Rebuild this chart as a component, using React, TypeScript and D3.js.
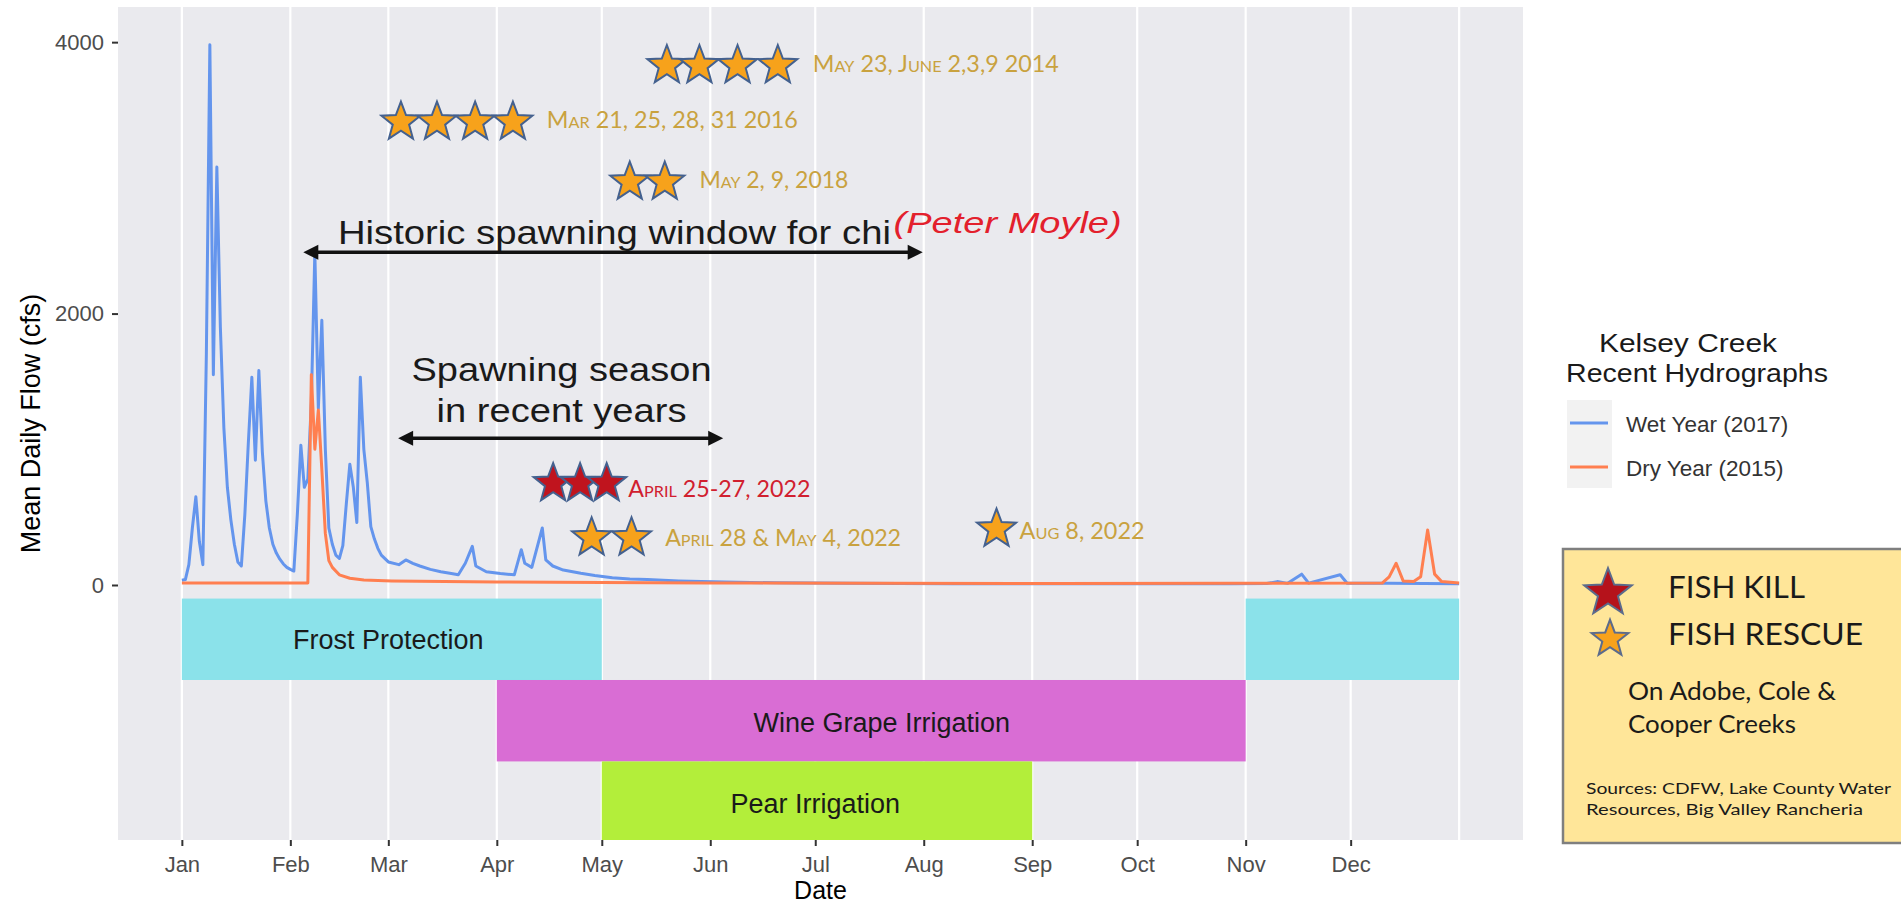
import React, { useEffect, useRef } from "react";
import * as d3 from "d3";

// Kelsey Creek mean daily flow (cfs), keyed by day of year (0 = Jan 1)
const wetYear2017: [number, number][] = [
  [0, 35], [1, 40], [2, 150], [3, 420], [4, 650], [5, 320], [6, 150], [7, 1700], [8, 3980], [9, 1550],
  [10, 3080], [11, 1900], [12, 1160], [13, 720], [14, 480], [15, 300], [16, 170], [17, 140], [18, 520],
  [19, 1050], [20, 1530], [21, 920], [22, 1580], [23, 980], [24, 620], [25, 420], [26, 300], [27, 235],
  [28, 190], [29, 155], [30, 130], [31, 115], [32, 103], [33, 520], [34, 1030], [35, 720], [36, 780],
  [37, 1350], [38, 2450], [39, 1300], [40, 1950], [41, 1000], [42, 420], [43, 300], [44, 220], [45, 195],
  [46, 290], [47, 600], [48, 890], [49, 720], [50, 460], [51, 1530], [52, 1000], [53, 750], [54, 430],
  [55, 340], [56, 270], [57, 220], [59, 170], [62, 150], [64, 185], [66, 160], [68, 140], [71, 115],
  [74, 98], [77, 85], [79, 75], [81, 160], [83, 285], [84, 140], [87, 98], [91, 85], [95, 75], [97, 260],
  [98, 160], [100, 130], [103, 420], [104, 185], [106, 140], [109, 110], [114, 86], [118, 70], [123, 53],
  [128, 45], [133, 40], [142, 30], [155, 22], [170, 16], [190, 12], [220, 10], [260, 9], [300, 9],
  [310, 11], [313, 25], [316, 12], [320, 80], [322, 14], [331, 75], [333, 13], [345, 12], [365, 10],
];

const dryYear2015: [number, number][] = [
  [0, 15], [36, 15], [37, 1550], [38, 1000], [39, 1290], [40, 850], [41, 380], [42, 180], [43, 130],
  [45, 75], [48, 50], [52, 37], [60, 30], [75, 25], [90, 22], [120, 18], [150, 15], [200, 12], [250, 11],
  [300, 12], [343, 14], [345, 60], [347, 160], [349, 30], [352, 25], [354, 60], [356, 405], [358, 80],
  [360, 25], [365, 15],
];

const yTicks = [0, 2000, 4000];

// water-use seasons drawn below the zero line (day ranges, cfs ranges)
const seasons = [
  { kind: "frost", start: 0, end: 120, top: -100, bottom: -700 },
  { kind: "frost", start: 304, end: 365, top: -100, bottom: -700 },
  { kind: "wine", start: 90, end: 304, top: -700, bottom: -1300 },
  { kind: "pear", start: 120, end: 243, top: -1300, bottom: -1879 },
];
const seasonLabels = [
  { text: "Frost Protection", day: 59, cfs: -405 },
  { text: "Wine Grape Irrigation", day: 200, cfs: -1010 },
  { text: "Pear Irrigation", day: 181, cfs: -1610 },
];

// fish rescue / kill events (star days along the axis, label text)
const rescueEvents = [
  { days: [138.6, 147.9, 158.8, 170.3], cfs: 3828, label: "May 23, June 2,3,9 2014", labelDay: 180.3, labelCfs: 3782 },
  { days: [62.6, 72.9, 83.8, 94.6], cfs: 3411, label: "Mar 21, 25, 28, 31 2016", labelDay: 104.3, labelCfs: 3365 },
  { days: [128, 138], cfs: 2969, label: "May 2, 9, 2018", labelDay: 147.9, labelCfs: 2925 },
  { days: [117.1, 128.5], cfs: 348, label: "April 28 & May 4, 2022", labelDay: 138.1, labelCfs: 287 },
  { days: [232.8], cfs: 412, label: "Aug 8, 2022", labelDay: 239.4, labelCfs: 339 },
];
const killEvents = [
  { days: [106.1, 113.8, 121.4], cfs: 748, label: "April 25-27, 2022", labelDay: 127.6, labelCfs: 651 },
];

// spawning windows (arrows)
const spawnArrows = [
  { from: 34.7, to: 211.7, cfs: 2451 },
  { from: 61.8, to: 154.7, cfs: 1081 },
];

const W = 1901;
const H = 906;
const panel = { left: 118, right: 1523, top: 7, bottom: 840 };
const sans = "'Liberation Sans', Arial, sans-serif";
const calibri = "Lato, 'Open Sans', sans-serif";

const seasonColor: Record<string, string> = { frost: "#8BE2EA", wine: "#D96DD4", pear: "#B3EE3A" };
const labelWidth: Record<string, number> = {
  "May 23, June 2,3,9 2014": 246,
  "Mar 21, 25, 28, 31 2016": 251,
  "May 2, 9, 2018": 149,
  "April 28 & May 4, 2022": 236,
  "Aug 8, 2022": 125,
  "April 25-27, 2022": 182,
};

const t0 = Date.UTC(2017, 0, 1);
const dayDate = (d: number) => new Date(t0 + d * 864e5);

const starPath = (R: number) => {
  const pts: [number, number][] = d3.range(10).map((i) => [(i * Math.PI) / 5, i % 2 ? R * 0.42 : R]);
  return d3.lineRadial().curve(d3.curveLinearClosed)(pts) as string;
};

export default function App() {
  const svgRef = useRef<SVGSVGElement | null>(null);

  useEffect(() => {
    if (!svgRef.current) return;
    document.body.style.margin = "0";
    document.body.style.overflow = "hidden";

    const svg = d3.select(svgRef.current);
    svg.selectAll("*").remove();

    const x = d3.scaleUtc().domain([dayDate(-18.25), dayDate(383.25)]).range([panel.left, panel.right]);
    const y = d3.scaleLinear().domain([-1879, 4259]).range([panel.bottom, panel.top]);

    svg.append("rect").attr("width", W).attr("height", H).attr("fill", "#ffffff");

    // panel + vertical grid
    svg.append("rect")
      .attr("x", panel.left).attr("y", panel.top)
      .attr("width", panel.right - panel.left).attr("height", panel.bottom - panel.top)
      .attr("fill", "#EAEAEE");

    const months = d3.utcMonth.range(dayDate(0), dayDate(365));
    const gridDates = d3.utcMonth.range(dayDate(0), dayDate(366));
    svg.append("g").selectAll("line").data(gridDates).enter().append("line")
      .attr("x1", (d) => x(d)).attr("x2", (d) => x(d))
      .attr("y1", panel.top).attr("y2", panel.bottom)
      .attr("stroke", "#ffffff").attr("stroke-width", 2.2);

    // seasons
    svg.append("g").selectAll("rect").data(seasons).enter().append("rect")
      .attr("x", (d) => x(dayDate(d.start)))
      .attr("width", (d) => x(dayDate(d.end)) - x(dayDate(d.start)))
      .attr("y", (d) => y(d.top))
      .attr("height", (d) => y(d.bottom) - y(d.top))
      .attr("fill", (d) => seasonColor[d.kind]);

    svg.append("g").selectAll("text").data(seasonLabels).enter().append("text")
      .attr("x", (d) => x(dayDate(d.day))).attr("y", (d) => y(d.cfs))
      .attr("dy", "0.35em").attr("text-anchor", "middle")
      .style("font-family", sans).style("font-size", "27px").attr("fill", "#1a1a1a")
      .text((d) => d.text);

    // hydrographs
    const line = d3.line<[number, number]>()
      .x((d) => x(dayDate(d[0])))
      .y((d) => y(d[1]));
    svg.append("path").datum(wetYear2017).attr("d", line)
      .attr("fill", "none").attr("stroke", "#6495ED").attr("stroke-width", 3).attr("stroke-linejoin", "round");
    svg.append("path").datum(dryYear2015).attr("d", line)
      .attr("fill", "none").attr("stroke", "#FF7F50").attr("stroke-width", 3).attr("stroke-linejoin", "round");

    // axes
    const xAxis = svg.append("g")
      .attr("transform", `translate(0,${panel.bottom})`)
      .call(d3.axisBottom(x).tickValues(months).tickFormat(d3.utcFormat("%b") as any).tickSize(6).tickPadding(10));
    xAxis.select(".domain").remove();
    xAxis.selectAll("line").attr("stroke", "#333").attr("stroke-width", 2);
    xAxis.selectAll("text").style("font-family", sans).style("font-size", "22px").attr("fill", "#4D4D4D");

    const yAxis = svg.append("g")
      .attr("transform", `translate(${panel.left},0)`)
      .call(d3.axisLeft(y).tickValues(yTicks).tickFormat(d3.format("d")).tickSize(6).tickPadding(8));
    yAxis.select(".domain").remove();
    yAxis.selectAll("line").attr("stroke", "#333").attr("stroke-width", 2);
    yAxis.selectAll("text").style("font-family", sans).style("font-size", "22px").attr("fill", "#4D4D4D");

    svg.append("text")
      .attr("x", (panel.left + panel.right) / 2).attr("y", 899)
      .attr("text-anchor", "middle").style("font-family", sans).style("font-size", "25px").attr("fill", "#000")
      .text("Date");
    svg.append("text")
      .attr("transform", `translate(40,${(panel.top + panel.bottom) / 2}) rotate(-90)`)
      .attr("text-anchor", "middle").style("font-family", sans).style("font-size", "27px").attr("fill", "#000")
      .text("Mean Daily Flow (cfs)");

    // spawning arrows
    const arrows = svg.append("g");
    spawnArrows.forEach((a) => {
      const x1 = x(dayDate(a.from));
      const x2 = x(dayDate(a.to));
      const yy = y(a.cfs);
      arrows.append("line").attr("x1", x1 + 8).attr("x2", x2 - 8).attr("y1", yy).attr("y2", yy)
        .attr("stroke", "#111").attr("stroke-width", 3.5);
      arrows.append("path").attr("d", `M${x1},${yy}L${x1 + 15},${yy - 7.5}L${x1 + 15},${yy + 7.5}Z`).attr("fill", "#111");
      arrows.append("path").attr("d", `M${x2},${yy}L${x2 - 15},${yy - 7.5}L${x2 - 15},${yy + 7.5}Z`).attr("fill", "#111");
    });

    const bigText = (day: number, cfs: number, txt: string, len: number, anchor: string) =>
      svg.append("text")
        .attr("x", x(dayDate(day))).attr("y", y(cfs))
        .attr("text-anchor", anchor)
        .attr("textLength", len).attr("lengthAdjust", "spacingAndGlyphs")
        .style("font-family", sans).style("font-size", "33px").attr("fill", "#1a1a1a")
        .text(txt);
    bigText(44.6, 2510, "Historic spawning window for chi", 553, "start");
    bigText(108.5, 1503, "Spawning season", 300, "middle");
    bigText(108.5, 1203, "in recent years", 250, "middle");
    svg.append("text")
      .attr("x", x(dayDate(203.4))).attr("y", y(2594))
      .attr("textLength", 228).attr("lengthAdjust", "spacingAndGlyphs")
      .style("font-family", sans).style("font-size", "30px").style("font-style", "italic")
      .attr("fill", "#E3202C")
      .text("(Peter Moyle)");

    // event stars
    const star = starPath(20.5);
    const drawEvents = (events: typeof rescueEvents, fill: string, textFill: string) => {
      const g = svg.append("g");
      events.forEach((e) => {
        g.selectAll(null).data(e.days).enter().append("path")
          .attr("d", star)
          .attr("transform", (d) => `translate(${x(dayDate(d))},${y(e.cfs)})`)
          .attr("fill", fill).attr("stroke", "#44618F").attr("stroke-width", 2).attr("stroke-linejoin", "miter");
        g.append("text")
          .attr("x", x(dayDate(e.labelDay))).attr("y", y(e.labelCfs))
          .attr("textLength", labelWidth[e.label]).attr("lengthAdjust", "spacingAndGlyphs")
          .style("font-family", calibri).style("font-size", "23px").style("font-variant", "small-caps")
          .attr("fill", textFill)
          .text(e.label);
      });
    };
    drawEvents(rescueEvents, "#F7A21B", "#C9A23F");
    drawEvents(killEvents, "#C0141E", "#D1202F");

    // series legend
    const leg = svg.append("g");
    leg.append("text").attr("x", 1688).attr("y", 352).attr("text-anchor", "middle")
      .attr("textLength", 178).attr("lengthAdjust", "spacingAndGlyphs")
      .style("font-family", sans).style("font-size", "26px").attr("fill", "#1a1a1a").text("Kelsey Creek");
    leg.append("text").attr("x", 1697).attr("y", 382).attr("text-anchor", "middle")
      .attr("textLength", 262).attr("lengthAdjust", "spacingAndGlyphs")
      .style("font-family", sans).style("font-size", "26px").attr("fill", "#1a1a1a").text("Recent Hydrographs");
    leg.append("rect").attr("x", 1567).attr("y", 400).attr("width", 45).attr("height", 88).attr("fill", "#F2F2F2");
    const legendItems = [
      { label: "Wet Year (2017)", color: "#6495ED" },
      { label: "Dry Year (2015)", color: "#FF7F50" },
    ];
    legendItems.forEach((d, i) => {
      const yy = 423 + i * 44;
      leg.append("line").attr("x1", 1570).attr("x2", 1608).attr("y1", yy).attr("y2", yy)
        .attr("stroke", d.color).attr("stroke-width", 3);
      leg.append("text").attr("x", 1626).attr("y", yy + 8.5)
        .style("font-family", sans).style("font-size", "22.5px").attr("fill", "#333").text(d.label);
    });

    // fish kill / rescue key box
    const box = svg.append("g");
    box.append("rect").attr("x", 1563).attr("y", 549).attr("width", 345).attr("height", 294)
      .attr("fill", "#FFE699").attr("stroke", "#7F7F7F").attr("stroke-width", 2.5);
    box.append("path").attr("d", starPath(25)).attr("transform", "translate(1608,593)")
      .attr("fill", "#B5121B").attr("stroke", "#5B6B8C").attr("stroke-width", 2);
    box.append("path").attr("d", starPath(19.3)).attr("transform", "translate(1610,639)")
      .attr("fill", "#F7A21B").attr("stroke", "#5B6B8C").attr("stroke-width", 2);
    const boxLines = [
      { text: "FISH KILL", x: 1668, y: 598, size: 30, len: 137 },
      { text: "FISH RESCUE", x: 1668, y: 645, size: 30, len: 195 },
      { text: "On Adobe, Cole &", x: 1628, y: 700, size: 25, len: 208 },
      { text: "Cooper Creeks", x: 1628, y: 733, size: 25, len: 168 },
      { text: "Sources: CDFW, Lake County Water", x: 1586, y: 794, size: 16, len: 305 },
      { text: "Resources, Big Valley Rancheria", x: 1586, y: 815, size: 16, len: 277 },
    ];
    box.selectAll(null).data(boxLines).enter().append("text")
      .attr("x", (d) => d.x).attr("y", (d) => d.y)
      .attr("textLength", (d) => d.len).attr("lengthAdjust", "spacingAndGlyphs")
      .style("font-family", calibri).style("font-size", (d) => `${d.size}px`).attr("fill", "#1a1a1a")
      .text((d) => d.text);
  }, []);

  return <svg ref={svgRef} width={W} height={H} style={{ display: "block" }} />;
}
